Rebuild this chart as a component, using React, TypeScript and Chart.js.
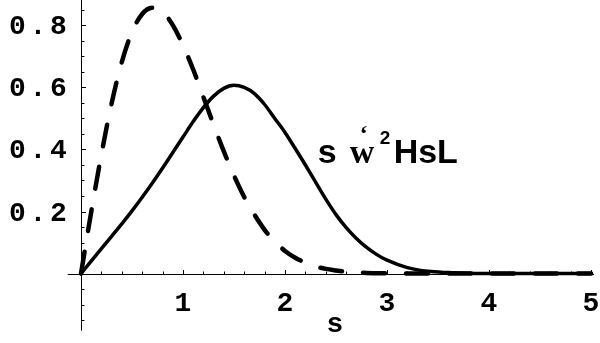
import { useEffect, useRef } from "react";
import { Chart, registerables } from "chart.js";

Chart.register(...registerables);

// Sample positions along s
const sGrid = [
  0, 0.1, 0.2, 0.3, 0.4, 0.5, 0.6, 0.7, 0.8, 0.9, 1.0, 1.1, 1.2, 1.3, 1.4, 1.5, 1.6, 1.7, 1.8, 1.9,
  2.0, 2.1, 2.2, 2.3, 2.4, 2.5, 2.6, 2.7, 2.8, 2.9, 3.0, 3.2, 3.4, 3.6, 3.8, 4.0, 4.5, 5.0,
];

// Dashed curve
const dashedValues = [
  0, 0.198, 0.384, 0.548, 0.682, 0.779, 0.837, 0.857, 0.844, 0.801, 0.736, 0.658, 0.569, 0.48, 0.394,
  0.316, 0.247, 0.19, 0.141, 0.103, 0.073, 0.051, 0.035, 0.023, 0.015, 0.01, 0.006, 0.004, 0.002,
  0.001, 0.001, 0, 0, 0, 0, 0, 0, 0,
];

// Solid curve
const solidValues = [
  0, 0.04, 0.08, 0.12, 0.16, 0.202, 0.246, 0.292, 0.34, 0.39, 0.44, 0.49, 0.535, 0.572, 0.597,
  0.607, 0.6, 0.58, 0.545, 0.5, 0.455, 0.403, 0.35, 0.295, 0.24, 0.19, 0.148, 0.113, 0.084, 0.061,
  0.043, 0.019, 0.007, 0.003, 0.001, 0, 0, 0,
];

const xTickValues = [1, 2, 3, 4, 5];
const xTickLabels = ["1", "2", "3", "4", "5"];
const yTickValues = [0.2, 0.4, 0.6, 0.8];
const yTickLabels = ["0.2", "0.4", "0.6", "0.8"];
const xAxisTitle = "s";

const MONO = "bold 28px 'Liberation Mono', 'DejaVu Sans Mono', monospace";
const SANS = "bold 34px 'Liberation Sans', Arial, sans-serif";
const SERIF = "bold 34px 'Liberation Serif', 'Times New Roman', serif";

// Draws text one glyph per fixed-width cell (wide Courier look)
function drawSpaced(
  ctx: CanvasRenderingContext2D,
  text: string,
  x: number,
  y: number,
  align: "left" | "center" | "right",
  cell: number
) {
  const total = text.length * cell;
  let left = x;
  if (align === "center") left = x - total / 2;
  else if (align === "right") left = x - total;
  ctx.textAlign = "center";
  for (let i = 0; i < text.length; i++) {
    ctx.fillText(text[i], left + cell * i + cell / 2, y);
  }
}

const axesPlugin = {
  id: "originAxes",
  beforeDatasetsDraw(chart: any) {
    const { ctx } = chart;
    const xs = chart.scales.x;
    const ys = chart.scales.y;
    const x0 = xs.getPixelForValue(0);
    const y0 = ys.getPixelForValue(0);
    ctx.save();
    ctx.strokeStyle = "#000";
    ctx.lineWidth = 1;
    ctx.beginPath();
    // horizontal axis
    ctx.moveTo(xs.getPixelForValue(-0.13), Math.round(y0) + 0.5);
    ctx.lineTo(xs.getPixelForValue(5.03), Math.round(y0) + 0.5);
    // vertical axis
    ctx.moveTo(Math.round(x0) + 0.5, ys.getPixelForValue(0.882));
    ctx.lineTo(Math.round(x0) + 0.5, ys.getPixelForValue(-0.184));
    ctx.stroke();

    // x ticks: minor every 0.2, major at integers (pointing up)
    ctx.beginPath();
    for (let k = 1; k <= 25; k++) {
      const v = k * 0.2;
      const px = Math.round(xs.getPixelForValue(v)) + 0.5;
      const len = k % 5 === 0 ? 4 : 2.5;
      ctx.moveTo(px, Math.round(y0));
      ctx.lineTo(px, Math.round(y0) - len);
    }
    // y ticks: minor every 0.05, major every 0.2 (pointing right)
    for (let k = -3; k <= 17; k++) {
      if (k === 0) continue;
      const v = k * 0.05;
      const py = Math.round(ys.getPixelForValue(v)) + 0.5;
      const len = k % 4 === 0 ? 4 : 2.5;
      ctx.moveTo(Math.round(x0) + 1, py);
      ctx.lineTo(Math.round(x0) + 1 + len, py);
    }
    ctx.stroke();
    ctx.restore();
  },
  afterDraw(chart: any) {
    const { ctx } = chart;
    const xs = chart.scales.x;
    const ys = chart.scales.y;
    const x0 = xs.getPixelForValue(0);
    const y0 = ys.getPixelForValue(0);
    ctx.save();
    ctx.fillStyle = "#000";
    ctx.textBaseline = "alphabetic";
    ctx.font = MONO;
    xTickValues.forEach((v, i) => {
      drawSpaced(ctx, xTickLabels[i], xs.getPixelForValue(v), y0 + 37, "center", 20.4);
    });
    yTickValues.forEach((v, i) => {
      drawSpaced(ctx, yTickLabels[i], x0 - 12.5, ys.getPixelForValue(v) + 9, "right", 20.4);
    });
    drawSpaced(ctx, xAxisTitle, xs.getPixelForValue(2.49), y0 + 58.5, "center", 20.4);

    // curve label
    const bx = xs.getPixelForValue(2.32);
    const by = ys.getPixelForValue(0.356);
    ctx.textAlign = "left";
    ctx.font = SANS;
    ctx.fillText("s", bx, by);
    ctx.font = SERIF;
    ctx.fillText("w", bx + 32, by);
    ctx.font = "bold 24px 'Liberation Serif', serif";
    ctx.fillText("\u2018", bx + 42, by - 22);
    ctx.font = "bold 19px 'Liberation Sans', Arial, sans-serif";
    ctx.fillText("2", bx + 62, by - 19);
    ctx.font = SANS;
    ctx.fillText("HsL", bx + 76, by);
    ctx.restore();
  },
};

export default function App() {
  const canvasRef = useRef<HTMLCanvasElement | null>(null);

  useEffect(() => {
    const canvas = canvasRef.current;
    if (!canvas) return;
    const dashedPts = sGrid.map((s, i) => ({ x: s, y: dashedValues[i] }));
    const solidPts = sGrid.map((s, i) => ({ x: s, y: solidValues[i] }));
    const chart = new Chart(canvas, {
      type: "scatter",
      data: {
        datasets: [
          {
            data: dashedPts,
            showLine: true,
            borderColor: "#000",
            borderWidth: 4.5,
            borderDash: [22, 21],
            borderCapStyle: "round",
            borderJoinStyle: "round",
            cubicInterpolationMode: "monotone",
            pointRadius: 0,
            fill: false,
          },
          {
            data: solidPts,
            showLine: true,
            borderColor: "#000",
            borderWidth: 3.5,
            borderCapStyle: "round",
            borderJoinStyle: "round",
            cubicInterpolationMode: "monotone",
            pointRadius: 0,
            fill: false,
          },
        ],
      } as any,
      options: {
        animation: false,
        responsive: false,
        devicePixelRatio: 1,
        layout: { padding: 0 },
        plugins: {
          legend: { display: false },
          tooltip: { enabled: false },
        },
        scales: {
          x: { type: "linear", min: -0.794, max: 5.088, display: false },
          y: { type: "linear", min: -0.224, max: 0.882, display: false },
        },
      },
      plugins: [axesPlugin],
    });
    return () => chart.destroy();
  }, []);

  return (
    <div style={{ position: "absolute", left: 0, top: 0, width: 600, height: 343, background: "#fff" }}>
      <canvas ref={canvasRef} width={600} height={343} style={{ display: "block" }} />
    </div>
  );
}
